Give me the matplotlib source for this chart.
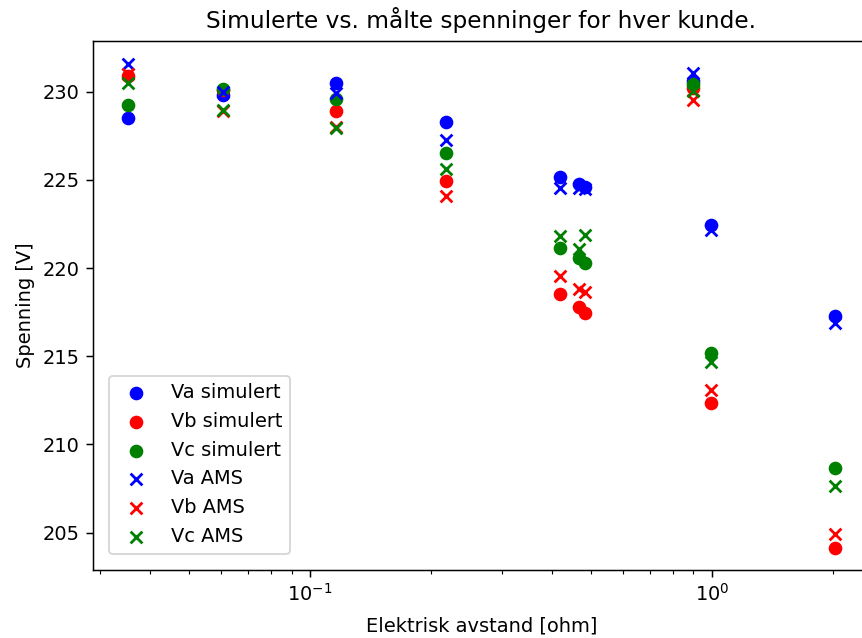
import matplotlib
matplotlib.use('Agg')
import matplotlib.pyplot as plt

# Data
distance = [0.0352, 0.0606, 0.1159, 0.2182, 0.4192, 0.4675, 0.4838, 0.8968, 0.996, 2.027]
va_sim = [228.5, 229.8, 230.5, 228.26, 225.15, 224.75, 224.6, 230.6, 222.45, 217.28]
vb_sim = [230.9, 230.1, 228.9, 224.94, 218.51, 217.8, 217.45, 230.2, 212.37, 204.12]
vc_sim = [229.25, 230.15, 229.57, 226.54, 221.12, 220.55, 220.3, 230.45, 215.2, 208.65]
va_ams = [231.55, 230.0, 229.9, 227.26, 224.52, 224.52, 224.5, 231.05, 222.15, 216.9]
vb_ams = [231.0, 228.9, 228.0, 224.09, 219.57, 218.8, 218.66, 229.55, 213.08, 204.93]
vc_ams = [230.5, 228.95, 227.96, 225.6, 221.82, 221.1, 221.87, 230.05, 214.7, 207.65]

title = "Simulerte vs. målte spenninger for hver kunde."
xlabel = "Elektrisk avstand [ohm]"
ylabel = "Spenning [V]"

plt.rcParams['font.size'] = 10.4

W, H, DPI = 862, 638, 134
fig = plt.figure(figsize=(W / DPI, H / DPI), dpi=DPI)
left, right, top, bottom = 92.5, 870.0, 40.7, 570.0
ax = fig.add_axes([left / W, (H - bottom) / H, (right - left) / W, (bottom - top) / H])

ax.scatter(distance, va_sim, color='blue', marker='o', s=40, label='Va simulert')
ax.scatter(distance, vb_sim, color='red', marker='o', s=40, label='Vb simulert')
ax.scatter(distance, vc_sim, color='green', marker='o', s=40, label='Vc simulert')
ax.scatter(distance, va_ams, color='blue', marker='x', s=40, label='Va AMS')
ax.scatter(distance, vb_ams, color='red', marker='x', s=40, label='Vb AMS')
ax.scatter(distance, vc_ams, color='green', marker='x', s=40, label='Vc AMS')

ax.set_xscale('log')
ax.set_xlim(0.02873, 2.477)
ax.set_ylim(202.88, 232.89)
ax.set_yticks([205, 210, 215, 220, 225, 230])

ax.set_title(title, fontsize=12.5, pad=7)
ax.set_xlabel(xlabel, labelpad=6)
ax.set_ylabel(ylabel)
ax.legend(loc='lower left', borderaxespad=0.85)

fig.savefig('out.png', dpi=DPI)
